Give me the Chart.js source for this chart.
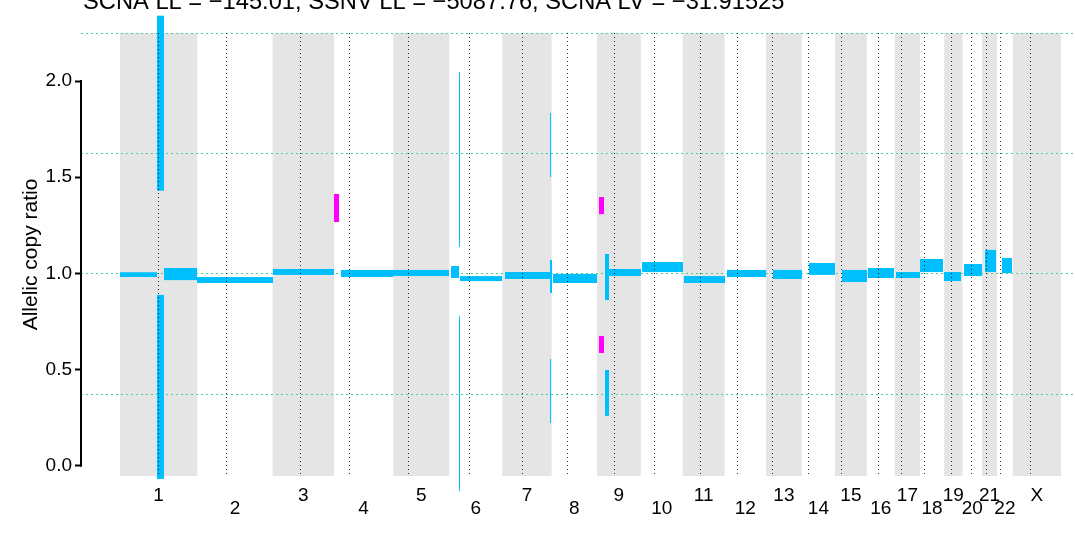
<!DOCTYPE html>
<html>
<head>
<meta charset="utf-8">
<script src="https://cdn.jsdelivr.net/npm/chart.js"></script>
<style>
  html, body { margin: 0; padding: 0; background: #fff; }
  #wrap { width: 1075px; height: 533px; }
</style>
</head>
<body>
<div id="wrap"><canvas id="cnChart" width="1075" height="533"></canvas></div>
<script>
// chromosomes (lengths and centromeres in Mb)
const chromNames = ['1', '2', '3', '4', '5', '6', '7', '8', '9', '10', '11', '12',
  '13', '14', '15', '16', '17', '18', '19', '20', '21', '22', 'X'];
const chromLengths = [249.25, 243.2, 198.02, 191.15, 180.92, 171.12, 159.14, 146.36,
  141.21, 135.53, 135.01, 133.85, 115.17, 107.35, 102.53, 90.35, 81.2, 78.08,
  59.13, 63.03, 48.13, 51.3, 155.27];
const centromeres = [123.6, 91.8, 89.4, 49.4, 48.7, 62.7, 62.5, 48.6, 54.9, 43.7,
  56.6, 39.1, 18.2, 19.2, 19.3, 37.1, 21, 13, 23, 27.5, 11.9, 10.9, 56.4];

// segments: [chrom, start Mb, end Mb, low, high]
const cyanSegments = [
  ['1', 0, 118.4, 0.981, 1.006],
  ['1', 118.4, 142.2, 1.43, 2.34],
  ['1', 118.4, 142.2, -0.069, 0.888],
  ['1', 143, 249.25, 0.965, 1.028],
  ['2', 0, 243.2, 0.950, 0.981],
  ['3', 0, 197, 0.992, 1.023],
  ['4', 22.5, 191.15, 0.981, 1.018],
  ['5', 0, 180.9, 0.986, 1.018],
  ['6', 5.5, 32.5, 0.976, 1.038],
  ['6', 32.5, 35, 1.137, 2.046],
  ['6', 32.5, 35, -0.132, 0.778],
  ['6', 35, 171.1, 0.960, 0.986],
  ['7', 8.7, 154.2, 0.971, 1.007],
  ['7', 154.2, 159.1, 0.898, 1.070],
  ['7', 154.5, 157.5, 1.501, 1.834],
  ['7', 154.5, 157.5, 0.222, 0.555],
  ['8', 4.4, 146.4, 0.950, 0.997],
  ['9', 25.8, 38.7, 0.861, 1.101],
  ['9', 25.8, 38.7, 0.259, 0.498],
  ['9', 38.7, 141.2, 0.986, 1.023],
  ['10', 4, 135.5, 1.007, 1.059],
  ['11', 4, 135, 0.950, 0.986],
  ['12', 7.8, 133.85, 0.981, 1.018],
  ['13', 22.4, 115.2, 0.971, 1.018],
  ['14', 23.4, 107.3, 0.992, 1.054],
  ['15', 22.5, 102.5, 0.955, 1.018],
  ['16', 3.9, 87, 0.976, 1.028],
  ['17', 3.9, 81.2, 0.976, 1.007],
  ['18', 0.1, 74.3, 1.007, 1.075],
  ['19', 0, 54.3, 0.960, 1.007],
  ['20', 4.9, 63, 0.986, 1.049],
  ['21', 9.6, 45.1, 1.007, 1.122],
  ['22', 16.4, 48.8, 1.002, 1.080]
];
const magentaSegments = [
  ['4', 0, 16, 1.267, 1.413],
  ['9', 6.5, 22.6, 1.308, 1.397],
  ['9', 6.5, 22.6, 0.586, 0.674]
];

const yTicks = [0, 0.5, 1, 1.5, 2];
const ploidyLevels = [0.373, 1.0, 1.627, 2.252];
const titleText = 'SCNA LL = \u2212145.01, SSNV LL = \u22125087.76, SCNA LV = \u221231.91525';

// cumulative genome position of each chromosome
const chromOffsets = [];
let acc = 0;
chromLengths.forEach(len => { chromOffsets.push(acc); acc += len; });
const chromCenters = chromLengths.map((len, i) => chromOffsets[i] + len / 2);

function gpos(chrom, mb) {
  return chromOffsets[chromNames.indexOf(chrom)] + mb;
}

const genomePlot = {
  id: 'genomePlot',
  beforeDatasetsDraw(chart) {
    const {ctx, chartArea: a, scales: {x, y}} = chart;
    ctx.save();
    // alternating chromosome shading
    ctx.fillStyle = '#e5e5e5';
    chromLengths.forEach((len, i) => {
      if (i % 2 === 0) {
        const x0 = x.getPixelForValue(chromOffsets[i]);
        const x1 = x.getPixelForValue(chromOffsets[i] + len);
        ctx.fillRect(x0, a.top, x1 - x0, a.bottom - a.top);
      }
    });
    // copy number levels
    ctx.strokeStyle = '#3fd694';
    ctx.lineWidth = 1;
    ctx.setLineDash([2, 3]);
    ploidyLevels.forEach(v => {
      const py = Math.round(y.getPixelForValue(v)) + 0.5;
      ctx.beginPath();
      ctx.moveTo(a.left, py);
      ctx.lineTo(a.right, py);
      ctx.stroke();
    });
    ctx.restore();
  },
  afterDatasetsDraw(chart) {
    const {ctx, chartArea: a, scales: {x, y}} = chart;
    ctx.save();
    const drawSegs = (segs, color) => {
      ctx.fillStyle = color;
      segs.forEach(s => {
        const x0 = Math.round(x.getPixelForValue(gpos(s[0], s[1])));
        const x1 = Math.max(Math.round(x.getPixelForValue(gpos(s[0], s[2]))), x0 + 1);
        const y0 = y.getPixelForValue(s[4]);
        const y1 = y.getPixelForValue(s[3]);
        ctx.fillRect(x0, y0, x1 - x0, Math.max(y1 - y0, 1));
      });
    };
    drawSegs(cyanSegments, '#00bfff');
    drawSegs(magentaSegments, '#ff00ff');

    // centromeres
    ctx.strokeStyle = 'rgba(0,0,0,0.8)';
    ctx.lineWidth = 1;
    ctx.setLineDash([1, 3]);
    centromeres.forEach((c, i) => {
      const px = Math.round(x.getPixelForValue(chromOffsets[i] + c)) + 0.5;
      ctx.beginPath();
      ctx.moveTo(px, a.top);
      ctx.lineTo(px, a.bottom);
      ctx.stroke();
    });

    // y axis line (only over the tick range)
    ctx.setLineDash([]);
    ctx.strokeStyle = '#000';
    ctx.lineWidth = 2;
    ctx.beginPath();
    ctx.moveTo(a.left, y.getPixelForValue(yTicks[0]) + 1);
    ctx.lineTo(a.left, y.getPixelForValue(yTicks[yTicks.length - 1]) - 1);
    ctx.stroke();
    ctx.restore();
  },
  afterDraw(chart) {
    const ctx = chart.ctx;
    ctx.save();
    ctx.font = '23.7px "Liberation Sans", Arial, sans-serif';
    ctx.fillStyle = '#000';
    ctx.textAlign = 'left';
    ctx.textBaseline = 'alphabetic';
    ctx.fillText(titleText, 83, 8.5);
    ctx.restore();
  }
};

Chart.defaults.font.family = '"Liberation Sans", Arial, sans-serif';
Chart.defaults.color = '#000';

new Chart(document.getElementById('cnChart'), {
  type: 'scatter',
  data: { datasets: [{ data: [] }] },
  plugins: [genomePlot],
  options: {
    responsive: false,
    animation: false,
    devicePixelRatio: 1,
    layout: { padding: { top: 33, right: 0, bottom: 0, left: 0 } },
    plugins: {
      legend: { display: false },
      tooltip: { enabled: false }
    },
    scales: {
      x: {
        type: 'linear',
        min: -125.8,
        max: 3081.6,
        grid: { display: false },
        border: { display: false },
        afterFit: scale => { scale.height = 57; },
        afterBuildTicks: scale => {
          scale.ticks = chromCenters.map(v => ({ value: v }));
        },
        ticks: {
          autoSkip: false,
          maxRotation: 0,
          minRotation: 0,
          padding: 5,
          font: { size: 19, lineHeight: 0.71 },
          color: '#000',
          callback: (value, index) => index % 2 === 0 ? chromNames[index] : ['', chromNames[index]]
        }
      },
      y: {
        type: 'linear',
        min: -0.0536,
        max: 2.25,
        afterFit: scale => { scale.width = 81; },
        afterBuildTicks: scale => {
          scale.ticks = yTicks.map(v => ({ value: v }));
        },
        grid: {
          drawOnChartArea: false,
          drawTicks: true,
          tickLength: 6,
          tickWidth: 2,
          tickColor: '#000'
        },
        border: { display: false },
        ticks: {
          padding: 3,
          font: { size: 19 },
          color: '#000',
          callback: v => v.toFixed(1)
        },
        title: {
          display: true,
          text: 'Allelic copy ratio',
          font: { size: 21 },
          color: '#000',
          padding: { top: 19, bottom: 0 }
        }
      }
    }
  }
});
</script>
</body>
</html>
